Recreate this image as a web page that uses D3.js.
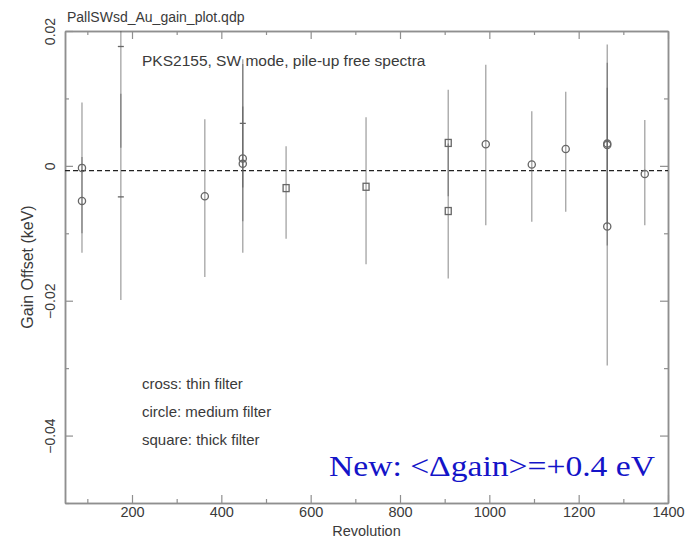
<!DOCTYPE html>
<html>
<head>
<meta charset="utf-8">
<script src="https://cdn.jsdelivr.net/npm/d3@7"></script>
<style>
  body { margin: 0; background: #fff; }
  text { font-family: "Liberation Sans", Arial, sans-serif; fill: #3a3a3a; }
</style>
</head>
<body>
<div id="wrapper"></div>
<script>
// data (keV)
const revolution = [88, 88, 175, 175, 363, 448, 448, 448, 545, 724, 908, 908, 992, 1095, 1171, 1264, 1264, 1264, 1348];
const gainOffset = [-0.0003, -0.0052, 0.0177, -0.0046, -0.0045, 0.0063, 0.0011, 0.0003, -0.0033, -0.0031, 0.0034, -0.0067, 0.0032, 0.0002, 0.0025, 0.0031, 0.0033, -0.0090, -0.0012];
const errPlus = [0.0097, 0.0065, 0.0150, 0.0153, 0.0114, 0.0095, 0.0140, 0.0085, 0.0062, 0.0103, 0.0079, 0.0100, 0.0118, 0.0079, 0.0085, 0.0149, 0.0120, 0.0206, 0.0080];
const errMinus = [0.0097, 0.0077, 0.0150, 0.0153, 0.0120, 0.0095, 0.0140, 0.0085, 0.0075, 0.0115, 0.0079, 0.0100, 0.0120, 0.0085, 0.0093, 0.0149, 0.0120, 0.0206, 0.0076];
const filter = ["medium", "medium", "thin", "thin", "medium", "thin", "medium", "medium", "thick", "thick", "thick", "thick", "medium", "medium", "medium", "medium", "medium", "medium", "medium"];
const meanOffset = -0.0007;

const xTicks = [200, 400, 600, 800, 1000, 1200, 1400];
const xMinorTicks = [100, 300, 500, 700, 900, 1100, 1300];
const yTicks = [0.02, 0, -0.02, -0.04];
const yMinorTicks = [0.01, -0.01, -0.03, -0.05];
const yTickLabels = ["0.02", "0", "\u22120.02", "\u22120.04"];

const legendLines = ["cross: thin filter", "circle: medium filter", "square: thick filter"];

const dataset = revolution.map((r, i) => ({
  rev: r, val: gainOffset[i], hi: gainOffset[i] + errPlus[i], lo: gainOffset[i] - errMinus[i], filter: filter[i]
}));

let dimensions = {
  width: 692,
  height: 541,
  margin: { top: 31, bottom: 38, left: 65, right: 24 },
};
dimensions.boundedWidth = dimensions.width - dimensions.margin.left - dimensions.margin.right;
dimensions.boundedHeight = dimensions.height - dimensions.margin.top - dimensions.margin.bottom;

const wrapper = d3.select("#wrapper").append("svg")
  .attr("width", dimensions.width)
  .attr("height", dimensions.height);

const bounds = wrapper.append("g")
  .attr("transform", `translate(${dimensions.margin.left},${dimensions.margin.top})`);

const xScale = d3.scaleLinear().domain([50, 1400]).range([0, dimensions.boundedWidth]);
const yScale = d3.scaleLinear().domain([-0.05, 0.02]).range([dimensions.boundedHeight, 0]);

bounds.append("clipPath").attr("id", "clip")
  .append("rect").attr("width", dimensions.boundedWidth).attr("height", dimensions.boundedHeight);

// axes (ticks point inwards)
const axisColor = "#8f8f8f";
function styleAxis(g) {
  g.select(".domain").attr("stroke", axisColor).attr("stroke-width", 1.5);
  g.selectAll(".tick line").attr("stroke", axisColor).attr("stroke-width", 1.2);
  g.selectAll(".tick text").style("font-size", "14.5px").attr("fill", "#3a3a3a");
}

bounds.append("g")
  .attr("transform", `translate(0,${dimensions.boundedHeight})`)
  .call(d3.axisBottom(xScale).tickValues(xTicks).tickSizeInner(-8).tickSizeOuter(0).tickPadding(4).tickFormat(d3.format("d")))
  .call(styleAxis);
bounds.append("g")
  .attr("transform", `translate(0,${dimensions.boundedHeight})`)
  .call(d3.axisBottom(xScale).tickValues(xMinorTicks).tickSizeInner(-4).tickSizeOuter(0).tickFormat(""))
  .call(styleAxis);
bounds.append("g")
  .call(d3.axisTop(xScale).tickValues(xTicks).tickSizeInner(-8).tickSizeOuter(0).tickFormat(""))
  .call(styleAxis);
bounds.append("g")
  .call(d3.axisTop(xScale).tickValues(xMinorTicks).tickSizeInner(-4).tickSizeOuter(0).tickFormat(""))
  .call(styleAxis);

const yAxis = bounds.append("g")
  .call(d3.axisLeft(yScale).tickValues(yTicks).tickSizeInner(-8).tickSizeOuter(0).tickFormat((d, i) => yTickLabels[i]))
  .call(styleAxis);
yAxis.selectAll(".tick text")
  .style("font-size", "14px")
  .attr("x", 0).attr("dy", 0)
  .attr("text-anchor", "middle")
  .attr("transform", "translate(-10,0) rotate(-90)");
bounds.append("g")
  .call(d3.axisLeft(yScale).tickValues(yMinorTicks).tickSizeInner(-4).tickSizeOuter(0).tickFormat(""))
  .call(styleAxis);
bounds.append("g")
  .attr("transform", `translate(${dimensions.boundedWidth},0)`)
  .call(d3.axisRight(yScale).tickValues(yTicks).tickSizeInner(-8).tickSizeOuter(0).tickFormat(""))
  .call(styleAxis);
bounds.append("g")
  .attr("transform", `translate(${dimensions.boundedWidth},0)`)
  .call(d3.axisRight(yScale).tickValues(yMinorTicks).tickSizeInner(-4).tickSizeOuter(0).tickFormat(""))
  .call(styleAxis);

// axis labels
bounds.append("text")
  .attr("x", dimensions.boundedWidth / 2)
  .attr("y", dimensions.boundedHeight + 33)
  .attr("text-anchor", "middle")
  .style("font-size", "14.5px")
  .text("Revolution");

bounds.append("text")
  .attr("transform", `translate(-32,${dimensions.boundedHeight / 2}) rotate(-90)`)
  .attr("text-anchor", "middle")
  .style("font-size", "16px")
  .text("Gain Offset (keV)");

// mean line
bounds.append("line")
  .attr("x1", 0).attr("x2", dimensions.boundedWidth)
  .attr("y1", yScale(meanOffset)).attr("y2", yScale(meanOffset))
  .attr("stroke", "#222").attr("stroke-width", 1.3)
  .attr("stroke-dasharray", "5,3");

// error bars
const plot = bounds.append("g").attr("clip-path", "url(#clip)");
plot.selectAll(".err")
  .data(dataset)
  .join("line")
  .attr("class", "err")
  .attr("x1", d => xScale(d.rev)).attr("x2", d => xScale(d.rev))
  .attr("y1", d => yScale(d.hi)).attr("y2", d => yScale(d.lo))
  .attr("stroke", "#555").attr("stroke-opacity", 0.5).attr("stroke-width", 1.4);

// markers
const markColor = "#666";
plot.selectAll(".circle")
  .data(dataset.filter(d => d.filter === "medium"))
  .join("circle")
  .attr("class", "circle")
  .attr("cx", d => xScale(d.rev)).attr("cy", d => yScale(d.val))
  .attr("r", 3.6)
  .attr("fill", "none").attr("stroke", markColor).attr("stroke-width", 1.3);

plot.selectAll(".square")
  .data(dataset.filter(d => d.filter === "thick"))
  .join("rect")
  .attr("class", "square")
  .attr("x", d => xScale(d.rev) - 3).attr("y", d => yScale(d.val) - 3.5)
  .attr("width", 6).attr("height", 7)
  .attr("fill", "none").attr("stroke", markColor).attr("stroke-width", 1.3);

plot.selectAll(".cross")
  .data(dataset.filter(d => d.filter === "thin"))
  .join("line")
  .attr("class", "cross")
  .attr("x1", d => xScale(d.rev) - 3).attr("x2", d => xScale(d.rev) + 3)
  .attr("y1", d => yScale(d.val)).attr("y2", d => yScale(d.val))
  .attr("stroke", markColor).attr("stroke-width", 1.3);

// annotations
wrapper.append("text")
  .attr("x", 67).attr("y", 22)
  .style("font-size", "14px")
  .text("PallSWsd_Au_gain_plot.qdp");

wrapper.append("text")
  .attr("x", 142).attr("y", 66)
  .style("font-size", "15.5px")
  .text("PKS2155, SW mode, pile-up free spectra");

wrapper.selectAll(".legend")
  .data(legendLines)
  .join("text")
  .attr("class", "legend")
  .attr("x", 142)
  .attr("y", (d, i) => 389 + i * 28)
  .style("font-size", "15px")
  .text(d => d);

wrapper.append("text")
  .attr("x", 329).attr("y", 476)
  .attr("textLength", 326)
  .attr("lengthAdjust", "spacingAndGlyphs")
  .style("font-family", "'Liberation Serif', 'Times New Roman', serif")
  .style("font-size", "30px")
  .style("fill", "#1414c8")
  .text("New: <\u0394gain>=+0.4 eV");
</script>
</body>
</html>
